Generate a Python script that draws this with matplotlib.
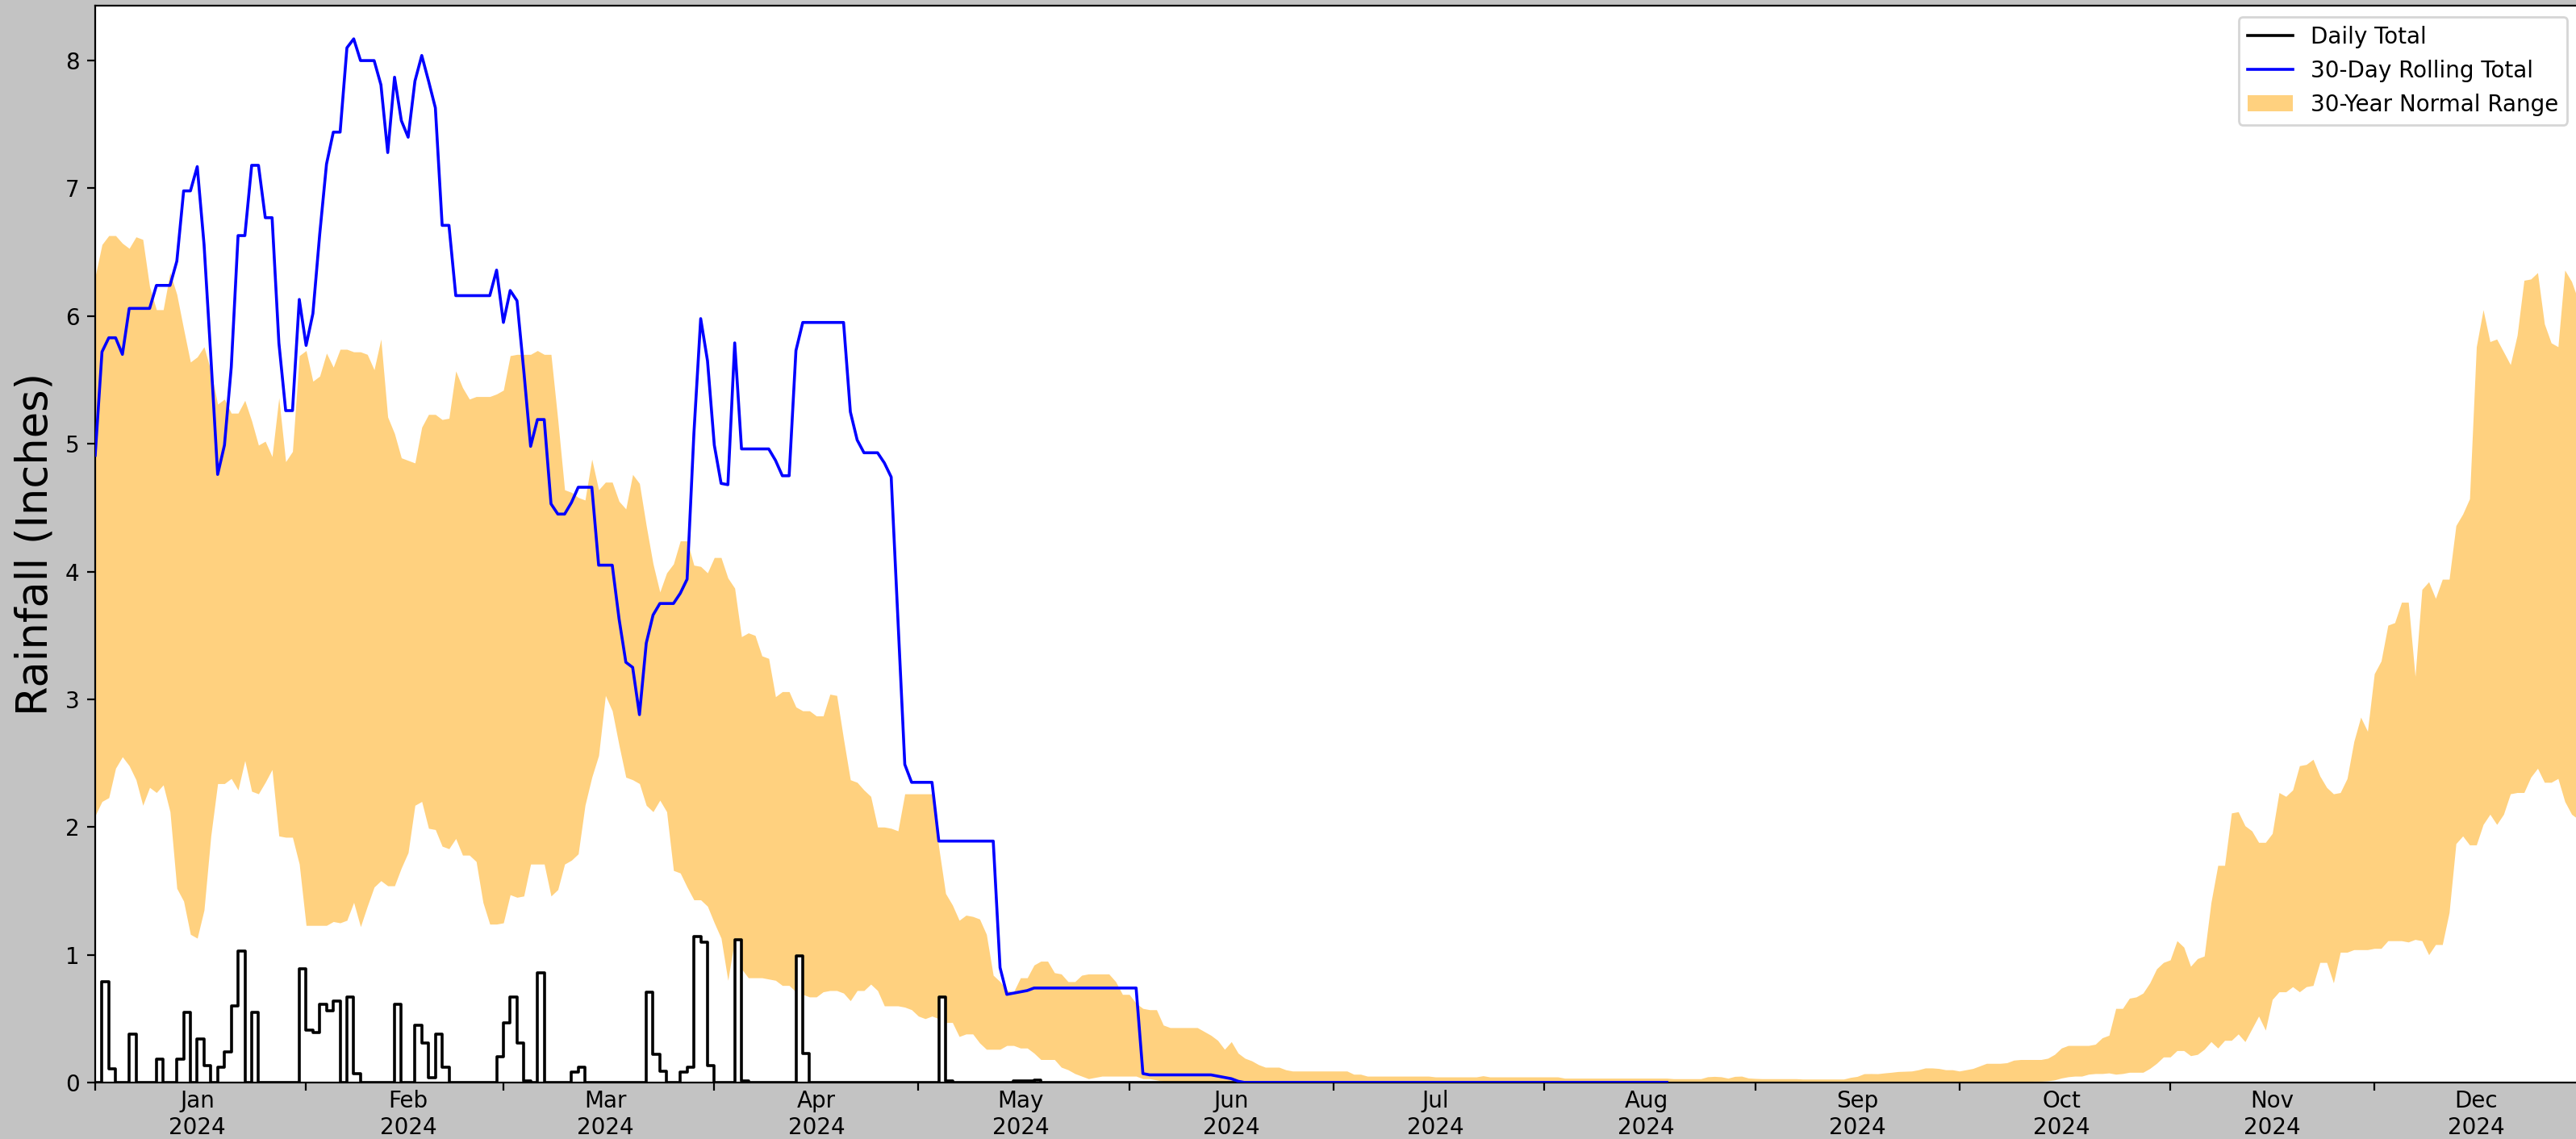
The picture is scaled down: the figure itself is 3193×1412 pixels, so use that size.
import numpy as np
import pandas as pd
import matplotlib
matplotlib.use("Agg")
import matplotlib.pyplot as plt
import matplotlib.dates as mdates
import matplotlib.ticker as ticker

# 30-year normal range of the 30-day rolling total, one value per day of 2024 (inches)
normal_upper = [
    6.31, 6.56, 6.63, 6.63, 6.57, 6.53, 6.62, 6.60, 6.23, 6.05,
    6.05, 6.34, 6.17, 5.90, 5.64, 5.68, 5.76, 5.57, 5.31, 5.35,
    5.24, 5.24, 5.34, 5.18, 4.99, 5.02, 4.90, 5.36, 4.86, 4.94,
    5.69, 5.73, 5.49, 5.53, 5.71, 5.60, 5.74, 5.74, 5.72, 5.72,
    5.70, 5.58, 5.82, 5.21, 5.08, 4.89, 4.87, 4.85, 5.13, 5.23,
    5.23, 5.19, 5.20, 5.57, 5.44, 5.35, 5.37, 5.37, 5.37, 5.39,
    5.42, 5.69, 5.70, 5.70, 5.70, 5.73, 5.70, 5.70, 5.19, 4.64,
    4.62, 4.58, 4.56, 4.88, 4.64, 4.70, 4.70, 4.55, 4.49, 4.76,
    4.69, 4.36, 4.06, 3.84, 3.99, 4.06, 4.24, 4.24, 4.05, 4.04,
    3.99, 4.11, 4.11, 3.95, 3.87, 3.49, 3.52, 3.50, 3.34, 3.32,
    3.02, 3.06, 3.06, 2.94, 2.91, 2.91, 2.87, 2.87, 3.04, 3.03,
    2.69, 2.37, 2.35, 2.29, 2.24, 2.00, 2.00, 1.99, 1.97, 2.26,
    2.26, 2.26, 2.26, 2.26, 1.84, 1.48, 1.39, 1.27, 1.31, 1.30,
    1.28, 1.16, 0.84, 0.79, 0.72, 0.71, 0.82, 0.82, 0.92, 0.95,
    0.95, 0.86, 0.85, 0.79, 0.79, 0.84, 0.85, 0.85, 0.85, 0.85,
    0.79, 0.69, 0.69, 0.62, 0.58, 0.57, 0.57, 0.45, 0.43, 0.43,
    0.43, 0.43, 0.43, 0.40, 0.37, 0.33, 0.26, 0.32, 0.23, 0.19,
    0.17, 0.14, 0.12, 0.12, 0.12, 0.10, 0.09, 0.09, 0.09, 0.09,
    0.09, 0.09, 0.09, 0.09, 0.09, 0.065, 0.065, 0.05, 0.05, 0.05,
    0.05, 0.05, 0.05, 0.05, 0.05, 0.05, 0.05, 0.044, 0.044, 0.044,
    0.044, 0.044, 0.044, 0.044, 0.053, 0.044, 0.044, 0.044, 0.044, 0.044,
    0.044, 0.044, 0.044, 0.044, 0.044, 0.044, 0.034, 0.034, 0.034, 0.034,
    0.034, 0.034, 0.034, 0.034, 0.034, 0.034, 0.034, 0.034, 0.034, 0.034,
    0.034, 0.034, 0.03, 0.03, 0.03, 0.03, 0.03, 0.045, 0.048, 0.045,
    0.034, 0.048, 0.05, 0.035, 0.032, 0.03, 0.03, 0.03, 0.03, 0.03,
    0.03, 0.027, 0.027, 0.027, 0.027, 0.027, 0.027, 0.027, 0.04, 0.048,
    0.069, 0.07, 0.069, 0.075, 0.08, 0.086, 0.088, 0.09, 0.10, 0.114,
    0.114, 0.11, 0.10, 0.10, 0.09, 0.10, 0.11, 0.13, 0.15, 0.15,
    0.15, 0.155, 0.175, 0.18, 0.18, 0.18, 0.18, 0.19, 0.22, 0.27,
    0.29, 0.29, 0.29, 0.29, 0.30, 0.35, 0.37, 0.58, 0.58, 0.66,
    0.67, 0.70, 0.78, 0.89, 0.94, 0.96, 1.11, 1.06, 0.91, 0.97,
    0.99, 1.41, 1.70, 1.70, 2.11, 2.12, 2.01, 1.97, 1.88, 1.88,
    1.95, 2.27, 2.24, 2.29, 2.48, 2.49, 2.53, 2.40, 2.31, 2.26,
    2.27, 2.38, 2.67, 2.86, 2.75, 3.20, 3.30, 3.58, 3.60, 3.76,
    3.76, 3.18, 3.86, 3.92, 3.79, 3.94, 3.94, 4.36, 4.45, 4.57,
    5.76, 6.05, 5.80, 5.82, 5.72, 5.62, 5.85, 6.28, 6.29, 6.34,
    5.94, 5.79, 5.76, 6.36, 6.27, 6.12,
]

normal_lower = [
    2.09, 2.20, 2.23, 2.46, 2.55, 2.48, 2.37, 2.17, 2.31, 2.27,
    2.33, 2.12, 1.52, 1.42, 1.16, 1.13, 1.35, 1.93, 2.34, 2.34,
    2.38, 2.29, 2.52, 2.28, 2.26, 2.35, 2.45, 1.93, 1.92, 1.92,
    1.71, 1.23, 1.23, 1.23, 1.23, 1.26, 1.25, 1.27, 1.41, 1.22,
    1.38, 1.53, 1.58, 1.54, 1.54, 1.68, 1.80, 2.17, 2.20, 1.99,
    1.98, 1.85, 1.83, 1.91, 1.78, 1.78, 1.73, 1.41, 1.24, 1.24,
    1.25, 1.47, 1.45, 1.46, 1.71, 1.71, 1.71, 1.46, 1.51, 1.71,
    1.74, 1.79, 2.17, 2.39, 2.56, 3.03, 2.91, 2.64, 2.39, 2.37,
    2.34, 2.17, 2.12, 2.21, 2.12, 1.66, 1.64, 1.53, 1.43, 1.43,
    1.38, 1.25, 1.13, 0.80, 1.12, 0.89, 0.82, 0.82, 0.82, 0.81,
    0.80, 0.76, 0.76, 0.71, 0.69, 0.67, 0.67, 0.71, 0.72, 0.72,
    0.70, 0.64, 0.72, 0.72, 0.77, 0.72, 0.60, 0.60, 0.60, 0.59,
    0.57, 0.52, 0.50, 0.52, 0.50, 0.47, 0.47, 0.36, 0.38, 0.38,
    0.31, 0.26, 0.26, 0.26, 0.29, 0.29, 0.27, 0.27, 0.23, 0.18,
    0.18, 0.18, 0.12, 0.10, 0.07, 0.05, 0.03, 0.04, 0.05, 0.05,
    0.05, 0.05, 0.05, 0.05, 0.03, 0.03, 0.02, 0.01, 0.01, 0.01,
    0.01, 0.01, 0.01, 0.01, 0.01, 0.01, 0.01, 0.01, 0.01, 0.01,
    0.01, 0.01, 0.01, 0.01, 0.01, 0.01, 0.0, 0.0, 0.0, 0.0,
    0.0, 0.0, 0.0, 0.0, 0.0, 0.0, 0.0, 0.0, 0.0, 0.0,
    0.0, 0.0, 0.0, 0.0, 0.0, 0.0, 0.0, 0.0, 0.0, 0.0,
    0.0, 0.0, 0.0, 0.0, 0.0, 0.0, 0.0, 0.0, 0.0, 0.0,
    0.0, 0.0, 0.0, 0.0, 0.0, 0.0, 0.0, 0.0, 0.0, 0.0,
    0.0, 0.0, 0.0, 0.0, 0.0, 0.0, 0.0, 0.0, 0.0, 0.0,
    0.0, 0.0, 0.0, 0.0, 0.0, 0.0, 0.0, 0.0, 0.0, 0.0,
    0.0, 0.0, 0.0, 0.0, 0.0, 0.0, 0.0, 0.0, 0.0, 0.0,
    0.0, 0.0, 0.0, 0.0, 0.0, 0.0, 0.0, 0.0, 0.0, 0.0,
    0.0, 0.0, 0.0, 0.0, 0.0, 0.0, 0.0, 0.0, 0.0, 0.0,
    0.0, 0.0, 0.0, 0.0, 0.0, 0.0, 0.0, 0.0, 0.0, 0.0,
    0.0, 0.0, 0.0, 0.0, 0.008, 0.01, 0.01, 0.013, 0.02, 0.035,
    0.045, 0.05, 0.05, 0.065, 0.07, 0.07, 0.075, 0.065, 0.07, 0.08,
    0.08, 0.08, 0.11, 0.15, 0.20, 0.20, 0.25, 0.25, 0.21, 0.22,
    0.26, 0.32, 0.27, 0.33, 0.33, 0.38, 0.32, 0.42, 0.52, 0.41,
    0.65, 0.71, 0.71, 0.75, 0.71, 0.75, 0.76, 0.94, 0.94, 0.78,
    1.02, 1.02, 1.04, 1.04, 1.04, 1.05, 1.05, 1.11, 1.11, 1.11,
    1.10, 1.12, 1.11, 1.00, 1.08, 1.08, 1.33, 1.87, 1.93, 1.86,
    1.86, 2.02, 2.10, 2.02, 2.10, 2.26, 2.27, 2.27, 2.39, 2.46,
    2.35, 2.35, 2.38, 2.20, 2.10, 2.06,
]

# observed daily totals, Jan 1 - Aug 19 2024 (inches)
daily_total = [
    0, 0.79, 0.11, 0, 0, 0.38, 0, 0, 0, 0.18,
    0, 0, 0.18, 0.55, 0, 0.34, 0.13, 0, 0.12, 0.24,
    0.60, 1.03, 0, 0.55, 0, 0, 0, 0, 0, 0,
    0.89, 0.41, 0.39, 0.61, 0.56, 0.64, 0, 0.67, 0.07, 0,
    0, 0, 0, 0, 0.61, 0, 0, 0.45, 0.31, 0.04,
    0.38, 0.12, 0, 0, 0, 0, 0, 0, 0, 0.20,
    0.47, 0.67, 0.31, 0.01, 0, 0.86, 0, 0, 0, 0,
    0.08, 0.12, 0, 0, 0, 0, 0, 0, 0, 0,
    0, 0.71, 0.22, 0.09, 0, 0, 0.08, 0.12, 1.14, 1.10,
    0.13, 0, 0, 0, 1.12, 0.01, 0, 0, 0, 0,
    0, 0, 0, 0.99, 0.23, 0, 0, 0, 0, 0,
    0, 0, 0, 0, 0, 0, 0, 0, 0, 0,
    0, 0, 0, 0, 0.67, 0.01, 0, 0, 0, 0,
    0, 0, 0, 0, 0, 0.01, 0.01, 0.01, 0.02, 0,
    0, 0, 0, 0, 0, 0, 0, 0, 0, 0,
    0, 0, 0, 0, 0, 0, 0, 0, 0, 0,
    0, 0, 0, 0, 0, 0, 0, 0, 0, 0,
    0, 0, 0, 0, 0, 0, 0, 0, 0, 0,
    0, 0, 0, 0, 0, 0, 0, 0, 0, 0,
    0, 0, 0, 0, 0, 0, 0, 0, 0, 0,
    0, 0, 0, 0, 0, 0, 0, 0, 0, 0,
    0, 0, 0, 0, 0, 0, 0, 0, 0, 0,
    0, 0, 0, 0, 0, 0, 0, 0, 0, 0,
    0, 0,
]

rolling_total = [
    4.91, 5.72, 5.83, 5.83, 5.70, 6.06, 6.06, 6.06, 6.06, 6.24,
    6.24, 6.24, 6.43, 6.98, 6.98, 7.17, 6.56, 5.68, 4.76, 4.99,
    5.60, 6.63, 6.63, 7.18, 7.18, 6.77, 6.77, 5.79, 5.26, 5.26,
    6.13, 5.77, 6.02, 6.64, 7.19, 7.44, 7.44, 8.10, 8.17, 8.00,
    8.00, 8.00, 7.81, 7.28, 7.87, 7.53, 7.40, 7.84, 8.04, 7.84,
    7.63, 6.71, 6.71, 6.16, 6.16, 6.16, 6.16, 6.16, 6.16, 6.36,
    5.95, 6.20, 6.12, 5.57, 4.98, 5.19, 5.19, 4.53, 4.45, 4.45,
    4.54, 4.66, 4.66, 4.66, 4.05, 4.05, 4.05, 3.63, 3.29, 3.25,
    2.88, 3.44, 3.66, 3.75, 3.75, 3.75, 3.83, 3.94, 5.08, 5.98,
    5.65, 4.99, 4.69, 4.68, 5.79, 4.96, 4.96, 4.96, 4.96, 4.96,
    4.87, 4.75, 4.75, 5.73, 5.95, 5.95, 5.95, 5.95, 5.95, 5.95,
    5.95, 5.25, 5.03, 4.93, 4.93, 4.93, 4.85, 4.74, 3.61, 2.49,
    2.35, 2.35, 2.35, 2.35, 1.89, 1.89, 1.89, 1.89, 1.89, 1.89,
    1.89, 1.89, 1.89, 0.90, 0.69, 0.70, 0.71, 0.72, 0.74, 0.74,
    0.74, 0.74, 0.74, 0.74, 0.74, 0.74, 0.74, 0.74, 0.74, 0.74,
    0.74, 0.74, 0.74, 0.74, 0.07, 0.06, 0.06, 0.06, 0.06, 0.06,
    0.06, 0.06, 0.06, 0.06, 0.06, 0.05, 0.04, 0.03, 0.01, 0,
    0, 0, 0, 0, 0, 0, 0, 0, 0, 0,
    0, 0, 0, 0, 0, 0, 0, 0, 0, 0,
    0, 0, 0, 0, 0, 0, 0, 0, 0, 0,
    0, 0, 0, 0, 0, 0, 0, 0, 0, 0,
    0, 0, 0, 0, 0, 0, 0, 0, 0, 0,
    0, 0, 0, 0, 0, 0, 0, 0, 0, 0,
    0, 0,
]

year_days = pd.date_range("2024-01-01", "2024-12-31", freq="D")
obs_days = year_days[:len(daily_total)]

W, H, DPI = 3193, 1412, 200
fig = plt.figure(figsize=(W / DPI, H / DPI), dpi=DPI, facecolor="#c3c3c3")
# axes run slightly past the right edge, like the reference crop
ax = fig.add_axes([118 / W, 70 / H, 3078 / W, 1335 / H])

band = ax.fill_between(year_days, normal_lower, normal_upper, color="orange",
                       alpha=0.5, linewidth=0, label="30-Year Normal Range",
                       zorder=1)
ax.fill_between(obs_days, 0, daily_total, step="post", color="white",
                linewidth=0, zorder=2)
daily_line, = ax.step(obs_days, daily_total, where="post", color="black",
                      lw=1.3, label="Daily Total", zorder=3)
roll_line, = ax.plot(obs_days, rolling_total, color="blue", lw=1.3,
                     label="30-Day Rolling Total", zorder=4)

ax.set_xlim(year_days[0], year_days[-1])
ax.set_ylim(0, 8.43)
ax.set_ylabel("Rainfall (Inches)", fontsize=19)

ax.xaxis.set_major_locator(mdates.MonthLocator())
ax.xaxis.set_major_formatter(ticker.NullFormatter())
ax.xaxis.set_minor_locator(mdates.MonthLocator(bymonthday=16))
ax.xaxis.set_minor_formatter(mdates.DateFormatter("%b\n%Y"))
ax.tick_params(axis="x", which="minor", length=0)

ax.legend(handles=[daily_line, roll_line, band], loc="upper right")

fig.savefig("out.png", dpi=DPI, facecolor=fig.get_facecolor())
